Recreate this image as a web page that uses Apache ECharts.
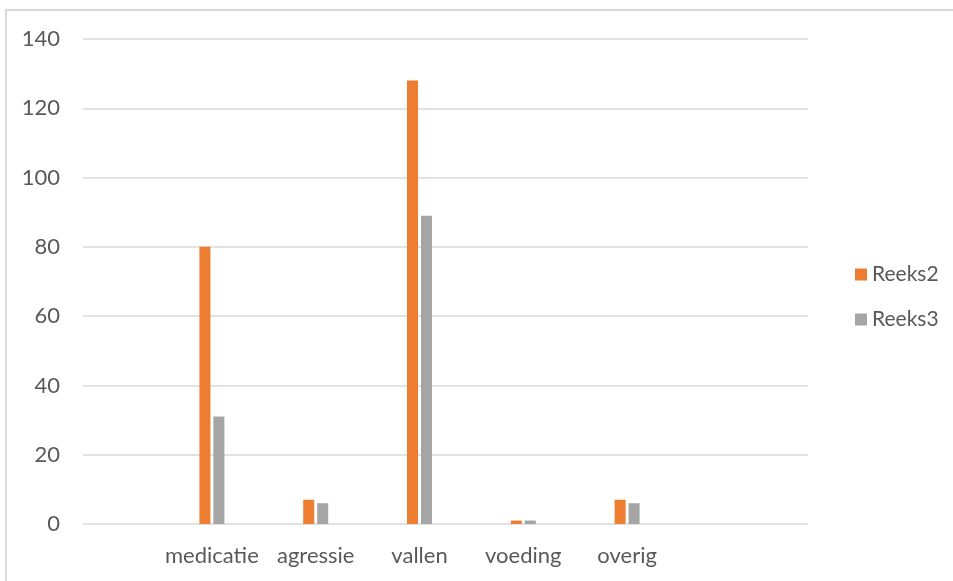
<!DOCTYPE html>
<html>
<head>
<meta charset="utf-8">
<script src="https://cdn.jsdelivr.net/npm/echarts@6/dist/echarts.min.js"></script>
<style>
  html, body { margin: 0; padding: 0; background: #ffffff; }
  #chart { width: 953px; height: 581px; }
</style>
</head>
<body>
<div id="chart"></div>
<script>
// Incident categories and counts per series
const categories = ['medicatie', 'agressie', 'vallen', 'voeding', 'overig'];
const reeks2 = [80, 7, 128, 1, 7];
const reeks3 = [31, 6, 89, 1, 6];
const yTicks = { min: 0, max: 140, interval: 20 };

const FONT = 'Lato';
const TEXT = '#595959';
const GRID = '#D9D9D9';
const SIZE = 22;

const chart = echarts.init(document.getElementById('chart'), null, { renderer: 'canvas' });

chart.setOption({
  backgroundColor: '#ffffff',
  animation: false,
  textStyle: { fontFamily: FONT, color: TEXT },
  graphic: [{
    type: 'rect',
    shape: { x: 6, y: 10, width: 1200, height: 1000 },
    style: { fill: 'none', stroke: GRID, lineWidth: 2 },
    silent: true
  }],
  legend: {
    orient: 'vertical',
    left: 850,
    top: 259,
    itemWidth: 12,
    itemHeight: 12,
    itemGap: 24,
    icon: 'rect',
    textStyle: { fontFamily: FONT, fontSize: 21, color: TEXT, padding: [0, 0, 0, 0] },
    data: ['Reeks2', 'Reeks3']
  },
  grid: [
    { left: 83, right: 145, top: 39, bottom: 57 },
    { left: 160, right: 274, top: 39, bottom: 57 }
  ],
  xAxis: [
    {
      gridIndex: 0, type: 'category', data: [''],
      axisLine: { show: false }, axisTick: { show: false }, axisLabel: { show: false }
    },
    {
      gridIndex: 1, type: 'category', data: categories,
      axisLine: { show: false }, axisTick: { show: false },
      axisLabel: { interval: 0, fontFamily: FONT, fontSize: SIZE, color: TEXT, margin: 21 }
    }
  ],
  yAxis: [
    {
      gridIndex: 0, type: 'value',
      min: yTicks.min, max: yTicks.max, interval: yTicks.interval,
      axisLine: { show: false }, axisTick: { show: false },
      axisLabel: { fontFamily: FONT, fontSize: SIZE, color: TEXT, margin: 23 },
      splitLine: { lineStyle: { color: GRID, width: 1.5 } }
    },
    {
      gridIndex: 1, type: 'value',
      min: yTicks.min, max: yTicks.max, interval: yTicks.interval,
      show: false, splitLine: { show: false }
    }
  ],
  series: [
    {
      name: 'Reeks2', type: 'bar', xAxisIndex: 1, yAxisIndex: 1,
      data: reeks2, barWidth: 11, barGap: '27%',
      itemStyle: { color: '#ED7D31' }
    },
    {
      name: 'Reeks3', type: 'bar', xAxisIndex: 1, yAxisIndex: 1,
      data: reeks3, barWidth: 11, barGap: '27%',
      itemStyle: { color: '#A5A5A5' }
    }
  ]
});
</script>
</body>
</html>
